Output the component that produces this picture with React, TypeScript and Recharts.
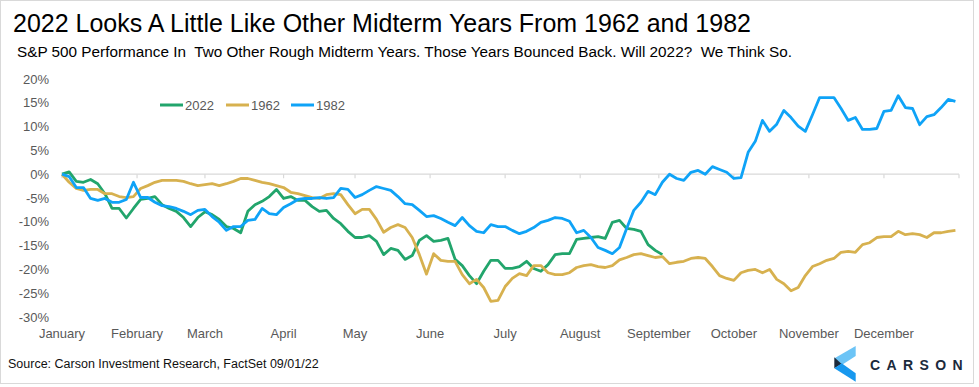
import React from 'react';
import { LineChart, Line, XAxis, YAxis, ReferenceLine } from 'recharts';

// ---- Data ----
const MONTHS = ['January', 'February', 'March', 'April', 'May', 'June', 'July', 'August', 'September', 'October', 'November', 'December'];
// trading-day index of the first session of each month
const MONTH_START_DAYS = [0, 21, 40, 62, 82, 103, 124, 145, 167, 188, 209, 230];
const LAST_DAY = 251;
const DAY_STEP = 2; // one sample every 2 trading days
const Y_TICKS = [-30, -25, -20, -15, -10, -5, 0, 5, 10, 15, 20];

// S&P 500 YTD performance, %
const PERF_2022 = [
  0, 0.5, -1.5, -1.7, -1.1, -2.0, -4.1, -7.2, -7.2, -9.2,
  -7.2, -5.3, -5.1, -4.7, -6.4, -7.2, -7.8, -9.1, -11.0, -9.1,
  -7.9, -8.5, -9.5, -11.0, -11.4, -12.3, -7.8, -6.4, -5.7, -4.7,
  -3.2, -5.1, -4.7, -5.5, -5.5, -6.8, -7.8, -7.6, -9.3, -10.4,
  -12.0, -13.3, -13.3, -12.9, -14.1, -16.9, -15.6, -16.0, -17.9, -17.1,
  -13.9, -12.9, -14.1, -13.9, -13.5, -17.9, -19.2, -21.3, -23.0, -20.4,
  -18.1, -18.1, -19.8, -19.8, -19.4, -18.3, -19.8, -20.4, -19.0, -16.9,
  -16.7, -16.7, -13.7, -13.5, -13.3, -13.1, -13.5, -10.1, -9.7, -11.4,
  -11.6, -12.0, -14.8, -16.0, -16.9,
];

const PERF_1962 = [
  0, -1.7, -3.0, -3.4, -3.2, -3.2, -4.1, -4.1, -4.7, -4.9,
  -4.7, -3.0, -2.4, -1.7, -1.3, -1.3, -1.3, -1.5, -2.0, -2.4,
  -2.2, -2.0, -2.4, -2.0, -1.5, -0.9, -0.9, -1.3, -1.7, -2.0,
  -2.4, -2.8, -3.8, -4.1, -4.5, -4.9, -5.1, -4.3, -4.1, -4.3,
  -6.4, -8.3, -7.4, -7.4, -9.5, -12.2, -11.2, -10.6, -11.2, -13.3,
  -16.9, -21.0, -16.7, -18.1, -18.3, -18.3, -21.1, -23.0, -22.1, -23.8,
  -26.7, -26.5, -23.6, -21.9, -20.9, -21.3, -19.2, -19.2, -20.7, -21.1,
  -21.1, -20.7, -19.6, -19.2, -19.0, -19.4, -19.6, -19.2, -18.0, -17.5,
  -16.9, -16.7, -17.1, -17.5, -17.3, -18.8, -18.5, -18.3, -17.7, -17.5,
  -17.7, -19.4, -21.3, -21.9, -22.3, -20.7, -20.2, -20.0, -20.7, -20.0,
  -22.1, -23.0, -24.5, -23.8, -21.3, -19.4, -18.8, -18.1, -17.7, -16.4,
  -16.2, -16.4, -14.8, -14.4, -13.3, -13.1, -13.1, -12.0, -12.7, -12.5,
  -12.7, -13.3, -12.3, -12.3, -12.0, -11.8,
];

const PERF_1982 = [
  0, -0.5, -2.8, -2.8, -5.1, -5.5, -5.1, -5.9, -5.9, -5.3,
  -1.7, -4.9, -4.9, -5.9, -6.6, -6.8, -7.2, -7.8, -8.5, -7.6,
  -7.4, -8.9, -10.1, -11.8, -11.0, -11.0, -9.7, -9.5, -7.2, -8.3,
  -8.5, -7.0, -6.2, -5.3, -5.1, -5.1, -4.9, -5.1, -4.9, -3.0,
  -3.2, -4.9, -4.3, -3.4, -2.6, -3.0, -3.4, -4.7, -6.2, -6.4,
  -7.6, -8.9, -8.7, -9.3, -10.1, -10.8, -9.1, -10.8, -12.0, -12.3,
  -10.6, -11.0, -11.0, -11.8, -12.5, -12.0, -11.2, -10.1, -9.7, -9.1,
  -9.3, -9.9, -12.3, -11.8, -13.3, -15.4, -16.0, -16.7, -15.4, -11.4,
  -7.6, -5.9, -3.6, -4.3, -1.7, 0, -0.9, -1.3, 0.4, 0.8,
  0, 1.6, 1.0, 0.4, -0.9, -0.7, 4.6, 6.9, 11.3, 9.0,
  10.5, 13.4, 11.9, 10.1, 9.0, 12.5, 16.1, 16.1, 16.1, 13.8,
  11.3, 11.9, 9.4, 9.4, 9.6, 13.2, 13.4, 16.5, 14.0, 13.8,
  10.4, 12.1, 12.5, 14.0, 15.7, 15.3,
];

const SERIES = [
  { key: 'y2022', name: '2022', color: '#22a56c', values: PERF_2022 },
  { key: 'y1962', name: '1962', color: '#d7b14f', values: PERF_1962 },
  { key: 'y1982', name: '1982', color: '#0fa3f7', values: PERF_1982 },
];

const TITLE = '2022 Looks A Little Like Other Midterm Years From 1962 and 1982';
const SUBTITLE = 'S&P 500 Performance In  Two Other Rough Midterm Years. Those Years Bounced Back. Will 2022?  We Think So.';
const SOURCE = 'Source: Carson Investment Research, FactSet 09/01/22';

const rows = PERF_1962.map((_, i) => {
  const row: Record<string, number | null> = { day: i * DAY_STEP };
  SERIES.forEach((s) => {
    row[s.key] = i < s.values.length ? s.values[i] : null;
  });
  return row;
});

const FONT = "'Liberation Sans', Arial, Helvetica, sans-serif";
const AXIS_GRAY = '#595959';
const LINE_GRAY = '#d9d9d9';

// legend layout (start x of each item)
const LEGEND_X = [160, 226, 291];

export default function App() {
  return (
    <div
      style={{
        position: 'absolute',
        left: 0,
        top: 0,
        width: 979,
        height: 387,
        background: '#ffffff',
        fontFamily: FONT,
        overflow: 'hidden',
      }}
    >
      <LineChart width={979} height={387} data={rows} margin={{ top: 79, right: 20, bottom: 40, left: 0 }}>
        <XAxis
          dataKey="day"
          type="number"
          domain={[0, LAST_DAY]}
          ticks={MONTH_START_DAYS}
          interval={0}
          tickFormatter={(d: number) => MONTHS[MONTH_START_DAYS.indexOf(d)] ?? ''}
          axisLine={false}
          tickLine={false}
          tickSize={0}
          tickMargin={12}
          height={30}
          tick={{ fill: AXIS_GRAY, fontSize: 13 }}
        />
        <YAxis
          type="number"
          domain={[-30, 20]}
          ticks={Y_TICKS}
          interval={0}
          tickFormatter={(v: number) => `${v}%`}
          axisLine={false}
          tickLine={false}
          tickSize={0}
          tickMargin={13}
          width={62}
          tick={{ fill: AXIS_GRAY, fontSize: 13 }}
        />
        <ReferenceLine y={0} stroke={LINE_GRAY} strokeWidth={1.2} />
        {[...MONTH_START_DAYS, LAST_DAY].map((d) => (
          <ReferenceLine
            key={`tick-${d}`}
            segment={[
              { x: d, y: 0 },
              { x: d, y: -0.85 },
            ]}
            stroke={LINE_GRAY}
            strokeWidth={1.2}
          />
        ))}
        {SERIES.map((s) => (
          <Line
            key={s.key}
            type="linear"
            dataKey={s.key}
            name={s.name}
            stroke={s.color}
            strokeWidth={2.8}
            dot={false}
            activeDot={false}
            isAnimationActive={false}
            connectNulls={false}
            strokeLinejoin="round"
          />
        ))}
      </LineChart>
      <svg
        width={979}
        height={387}
        style={{ position: 'absolute', left: 0, top: 0, pointerEvents: 'none', fontFamily: FONT }}
      >
        <rect x={0.5} y={0.5} width={973} height={383} fill="none" stroke={LINE_GRAY} strokeWidth={1} />
        <text x={13} y={32} fontSize={25} fill="#000">{TITLE}</text>
        <text x={17} y={57} fontSize={15.3} fill="#000" style={{ whiteSpace: 'pre' }}>{SUBTITLE}</text>
        {SERIES.map((s, i) => (
          <g key={`leg-${s.key}`}>
            <line x1={LEGEND_X[i]} x2={LEGEND_X[i] + 23} y1={105} y2={105} stroke={s.color} strokeWidth={3} />
            <text x={LEGEND_X[i] + 25} y={110} fontSize={13} fill={AXIS_GRAY}>{s.name}</text>
          </g>
        ))}
        <text x={8} y={368} fontSize={12.5} fill="#111">{SOURCE}</text>
        <polygon points="855.7,346 855.7,356 841.7,365 834.5,358.3" fill="#6cc4f6" />
        <polygon points="834.3,357.3 841.7,364 834.3,368.3" fill="#1b2a3c" />
        <polygon points="834.3,368.3 841.7,363.3 855.7,373.3 855.7,381.7" fill="#1898ee" />
        <text x={870} y={369.5} fontSize={14} fontWeight={700} letterSpacing={6.4} fill="#1b2a3c">CARSON</text>
      </svg>
    </div>
  );
}
